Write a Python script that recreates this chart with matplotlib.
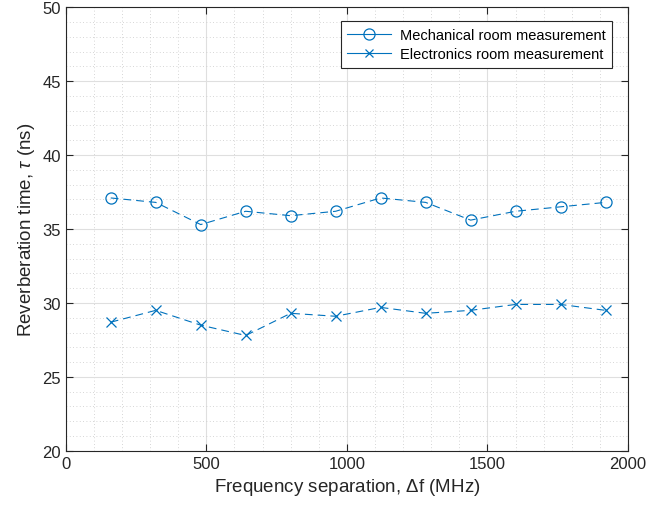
import matplotlib
matplotlib.use("Agg")
import matplotlib.pyplot as plt
from matplotlib.lines import Line2D
from matplotlib.ticker import MultipleLocator

plt.rcParams["font.family"] = ["Liberation Sans", "DejaVu Sans"]
plt.rcParams["mathtext.fontset"] = "custom"
plt.rcParams["mathtext.it"] = "Liberation Sans:italic"
plt.rcParams["mathtext.rm"] = "Liberation Sans"

# Data
freq_sep = [160, 320, 480, 640, 800, 960, 1120, 1280, 1440, 1600, 1760, 1920]
mech_tau = [37.1, 36.8, 35.3, 36.2, 35.9, 36.2, 37.1, 36.8, 35.6, 36.2, 36.5, 36.8]
elec_tau = [28.7, 29.5, 28.5, 27.8, 29.3, 29.1, 29.7, 29.3, 29.5, 29.9, 29.9, 29.5]
labels = ["Mechanical room measurement", "Electronics room measurement"]

BLUE = "#0072BD"
DARK = "#262626"

fig = plt.figure(figsize=(6.71, 5.10), dpi=100)
ax = fig.add_axes([0.098, 0.114, 0.838, 0.870])

dash = (0, (7, 4.5))
ax.plot(freq_sep, mech_tau, color=BLUE, linestyle=dash, linewidth=0.8,
        marker="o", markersize=8, markerfacecolor="none", markeredgewidth=0.9)
ax.plot(freq_sep, elec_tau, color=BLUE, linestyle=dash, linewidth=0.8,
        marker="x", markersize=6.5, markeredgewidth=0.9)

ax.set_xlim(0, 2000)
ax.set_ylim(20, 50)
ax.xaxis.set_major_locator(MultipleLocator(500))
ax.xaxis.set_minor_locator(MultipleLocator(100))
ax.yaxis.set_major_locator(MultipleLocator(5))
ax.yaxis.set_minor_locator(MultipleLocator(1))

ax.grid(which="major", color="#dfdfdf", linewidth=0.8, linestyle="-")
ax.grid(which="minor", color="#c8c8c8", linewidth=0.6, linestyle=(0, (1, 3)))
ax.set_axisbelow(True)

ax.tick_params(which="both", direction="in", top=True, right=True, colors=DARK,
               labelsize=12)
ax.tick_params(which="major", length=5, width=0.8)
ax.tick_params(which="minor", length=0)
for s in ax.spines.values():
    s.set_color(DARK)
    s.set_linewidth(0.8)

ax.set_xlabel(r"Frequency separation, $\Delta$f (MHz)", fontsize=13.5, color=DARK)
ax.set_ylabel(r"Reverberation time, $\tau$ (ns)", fontsize=13.5, color=DARK)

# legend shows solid line samples
handles = [
    Line2D([], [], color=BLUE, linewidth=0.8, marker="o", markersize=8,
           markerfacecolor="none", markeredgewidth=0.9),
    Line2D([], [], color=BLUE, linewidth=0.8, marker="x", markersize=5.5,
           markeredgewidth=0.9),
]
leg = ax.legend(handles, labels, loc="upper right", bbox_to_anchor=(0.9715, 0.968),
                fontsize=10.5, fancybox=False, framealpha=1, edgecolor=DARK,
                handlelength=3.0, handletextpad=0.6, borderpad=0.45,
                labelspacing=0.35, borderaxespad=0)
leg.get_frame().set_linewidth(0.8)

fig.savefig("out.png", dpi=100)
